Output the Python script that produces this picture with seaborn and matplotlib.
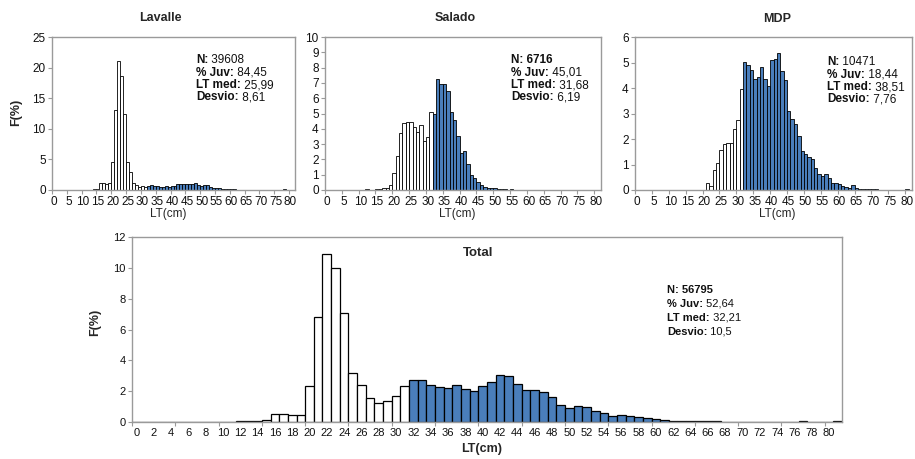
import numpy as np
import pandas as pd
import matplotlib
matplotlib.use("Agg")
import matplotlib.pyplot as plt
import seaborn as sns

# ---------------- data ----------------
LT = list(range(82))          # length classes (cm), 1-cm bins
JUV_LIMIT = 32                # classes below this are juveniles (white bars)

lavalle_F = ([0] * 12 +
             [0.05, 0.05, 0.1, 0.2, 1.1, 1.1, 1.0, 1.1, 4.5, 13.1] +        # 12-21
             [21.0, 18.7, 12.5, 4.5, 3.0, 1.2, 0.8, 0.5, 0.6, 0.5] +        # 22-31
             [0.6, 0.75, 0.6, 0.6, 0.55, 0.5, 0.6, 0.5, 0.6, 0.65] +        # 32-41
             [0.95, 1.0, 1.0, 0.95, 1.0, 0.95, 1.15, 0.8, 0.65, 0.75] +     # 42-51
             [0.75, 0.5, 0.4, 0.3, 0.35, 0.2, 0.15, 0.12, 0.1, 0.1] +       # 52-61
             [0.08, 0.08, 0.08, 0.06, 0.05, 0.02, 0.02, 0.02, 0.02, 0.02] + # 62-71
             [0.02, 0.02, 0.02, 0.02, 0.0, 0.0, 0.1, 0.0, 0.0, 0.0])        # 72-81
salado_F = ([0] * 12 +
            [0.07, 0.0, 0.02, 0.05, 0.05, 0.1, 0.12, 0.35, 1.1, 2.2] +      # 12-21
            [3.7, 4.35, 4.45, 4.45, 4.15, 3.8, 4.25, 3.2, 3.45, 5.1] +      # 22-31
            [4.95, 7.25, 6.9, 6.9, 6.45, 5.1, 4.6, 3.5, 2.4, 2.55] +        # 32-41
            [1.7, 1.0, 0.8, 0.55, 0.33, 0.2, 0.1, 0.1, 0.1, 0.08] +         # 42-51
            [0.08, 0.05, 0.0, 0.05, 0, 0, 0, 0, 0, 0] +                     # 52-61
            [0] * 20)                                                       # 62-81
mdp_F = ([0] * 21 +
         [0.28, 0.15, 0.8, 1.05, 1.55, 1.8, 1.85, 1.85, 2.4, 2.75, 3.98] +  # 21-31
         [5.02, 4.89, 4.69, 4.37, 4.43, 4.82, 4.37, 4.07, 5.08, 5.15] +     # 32-41
         [5.38, 4.65, 4.3, 3.09, 2.78, 2.58, 2.12, 1.53, 1.43, 1.3] +       # 42-51
         [1.2, 0.87, 0.63, 0.55, 0.63, 0.46, 0.29, 0.26, 0.23, 0.16] +      # 52-61
         [0.13, 0.09, 0.2, 0.07, 0.04, 0.04, 0.03, 0.03, 0.03, 0.02] +      # 62-71
         [0, 0, 0, 0, 0, 0, 0, 0, 0.04, 0])                                 # 72-81
total_F = ([0] * 12 +
           [0.04, 0.05, 0.05, 0.15, 0.54, 0.54, 0.48, 0.48, 2.32, 6.79] +   # 12-21
           [10.89, 10.02, 7.05, 3.15, 2.43, 1.57, 1.24, 1.34, 1.71, 2.32] + # 22-31
           [2.75, 2.75, 2.39, 2.28, 2.21, 2.43, 2.17, 2.0, 2.36, 2.6] +     # 32-41
           [3.02, 2.97, 2.49, 2.06, 2.06, 1.95, 1.65, 1.13, 0.91, 1.02] +   # 42-51
           [0.95, 0.74, 0.59, 0.41, 0.48, 0.4, 0.32, 0.25, 0.22, 0.12] +    # 52-61
           [0.07, 0.06, 0.09, 0.05, 0.04, 0.04, 0.03, 0.03, 0.03, 0.02] +   # 62-71
           [0.01, 0.01, 0.01, 0.01, 0.01, 0.04, 0.01, 0.01, 0.01, 0.05])    # 72-81

panel_titles = ["Lavalle", "Salado", "MDP", "Total"]
lavalle_stats = [("N:", " 39608"), ("% Juv:", " 84,45"), ("LT med:", " 25,99"), ("Desvio:", " 8,61")]
salado_stats = [("N: 6716", ""), ("% Juv:", " 45,01"), ("LT med:", " 31,68"), ("Desvio:", " 6,19")]
mdp_stats = [("N:", " 10471"), ("% Juv:", " 18,44"), ("LT med:", " 38,51"), ("Desvio:", " 7,76")]
total_stats = [("N: 56795", ""), ("% Juv:", " 52,64"), ("LT med:", " 32,21"), ("Desvio:", " 10,5")]

# ---------------- style ----------------
sns.set_theme(style="white")
plt.rcParams["font.family"] = ["Liberation Sans", "DejaVu Sans"]
BLUE = "#4a7ebb"
SPINE = "#9a9a9a"
W, H = 915, 459

fig = plt.figure(figsize=(W / 100, H / 100), dpi=100)


def fx(px):
    return px / W


def fy(py):
    return 1 - py / H


def make_axes(left, top, right, bottom):
    return fig.add_axes([fx(left), fy(bottom), fx(right - left), (bottom - top) / H])


def draw(ax, values, ymax, ystep, label_step, lw, fs):
    df = pd.DataFrame({"LT": LT, "F": values})
    df["grp"] = np.where(df["LT"] < JUV_LIMIT, "juv", "adu")
    sns.barplot(data=df, x="LT", y="F", hue="grp", order=LT,
                hue_order=["juv", "adu"], palette={"juv": "white", "adu": BLUE},
                dodge=False, width=1.0, saturation=1, edgecolor="black",
                linewidth=lw, errorbar=None, legend=False, ax=ax)
    ax.set_xlim(-0.5, len(LT) - 0.5)
    ax.set_ylim(0, ymax)
    ax.set_xlabel("")
    ax.set_ylabel("")
    yt = np.arange(0, ymax + 0.001, ystep)
    ax.set_yticks(yt)
    ax.set_yticklabels([f"{v:g}" for v in yt])
    ax.set_xticks([k - 0.5 for k in range(0, 82, 5)])
    ax.set_xticklabels([])
    ax.set_xticks(list(range(0, 81, label_step)), minor=True)
    ax.set_xticklabels([str(k) for k in range(0, 81, label_step)], minor=True)
    ax.tick_params(axis="x", which="major", direction="out", length=3, color=SPINE, width=0.8,
                   bottom=True)
    ax.tick_params(axis="x", which="minor", length=0, labelsize=fs, pad=4, labelcolor="#111111",
                   bottom=True)
    ax.tick_params(axis="y", direction="out", length=3, color=SPINE, width=0.8, labelsize=fs,
                   pad=1.5, labelcolor="#111111", left=True)
    for s in ax.spines.values():
        s.set_color(SPINE)
        s.set_linewidth(1.0)
    ax.set_facecolor("white")


def stats_block(ax, rows, x, y, dy, fs):
    for i, (lab, val) in enumerate(rows):
        t = ax.annotate(lab, xy=(x, H - (y + i * dy)), xycoords="figure pixels",
                        fontsize=fs, fontweight="bold", va="center", ha="left",
                        color="#111111")
        if val:
            ax.annotate(val, xy=(1, 0), xycoords=t, fontsize=fs, va="bottom", ha="left",
                        color="#111111")


# top panels
ax1 = make_axes(52, 37, 295, 190)
draw(ax1, lavalle_F, 25, 5, 5, 0.6, 8.5)
ax2 = make_axes(325, 37, 601, 190)
draw(ax2, salado_F, 10, 1, 5, 0.6, 8.5)
ax3 = make_axes(635, 37, 912, 190)
draw(ax3, mdp_F, 6, 1, 5, 0.6, 8.5)
ax4 = make_axes(132, 237, 842, 422)
draw(ax4, total_F, 12, 2, 2, 0.9, 8)

# titles
fig.text(fx(160), fy(18), panel_titles[0], ha="center", va="center", fontsize=9, fontweight="bold")
fig.text(fx(455), fy(18), panel_titles[1], ha="center", va="center", fontsize=9, fontweight="bold")
fig.text(fx(777), fy(19), panel_titles[2], ha="center", va="center", fontsize=9, fontweight="bold")
fig.text(fx(478), fy(253), panel_titles[3], ha="center", va="center", fontsize=9.5, fontweight="bold")

# axis labels
fig.text(fx(16), fy(112), "F(%)", rotation=90, ha="center", va="center", fontsize=9, fontweight="bold")
fig.text(fx(95), fy(322), "F(%)", rotation=90, ha="center", va="center", fontsize=9, fontweight="bold")
for cx in (168, 457, 777):
    fig.text(fx(cx), fy(214), "LT(cm)", ha="center", va="center", fontsize=8.5)
fig.text(fx(482), fy(449), "LT(cm)", ha="center", va="center", fontsize=9, fontweight="bold")

# stats
stats_block(ax1, lavalle_stats, 196, 60, 12.5, 8.5)
stats_block(ax2, salado_stats, 511, 60, 12.5, 8.5)
stats_block(ax3, mdp_stats, 827, 62, 12.5, 8.5)
stats_block(ax4, total_stats, 667, 290, 14, 8)

fig.savefig("out.png", dpi=100, facecolor="white")
